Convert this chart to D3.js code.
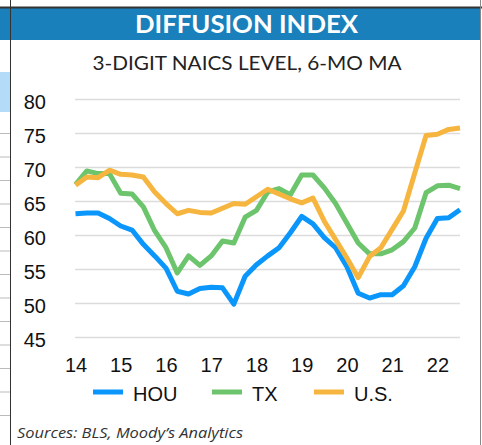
<!DOCTYPE html>
<html>
<head>
<meta charset="utf-8">
<script src="https://cdn.jsdelivr.net/npm/d3@7"></script>
<style>
  body { margin: 0; background: #fff; }
  svg { display: block; }
</style>
</head>
<body>
<svg id="chart" width="482" height="445"></svg>
<script>
// quarterly, 2014Q1 .. 2022Q3
const categories = [
  "14Q1","14Q2","14Q3","14Q4","15Q1","15Q2","15Q3","15Q4",
  "16Q1","16Q2","16Q3","16Q4","17Q1","17Q2","17Q3","17Q4",
  "18Q1","18Q2","18Q3","18Q4","19Q1","19Q2","19Q3","19Q4",
  "20Q1","20Q2","20Q3","20Q4","21Q1","21Q2","21Q3","21Q4",
  "22Q1","22Q2","22Q3"
];
const hou = [63.2, 63.3, 63.3, 62.5, 61.4, 60.8, 58.7, 57.0, 55.2, 51.8, 51.4, 52.2, 52.4, 52.3, 49.9, 54.0, 55.7,
  57.0, 58.2, 60.4, 62.8, 61.7, 59.7, 58.2, 55.4, 51.5, 50.8, 51.3, 51.3, 52.6, 55.4, 59.6, 62.5, 62.6, 63.8];
const tx = [67.5, 69.5, 69.1, 69.1, 66.2, 66.1, 64.2, 60.7, 58.2, 54.5, 57.0, 55.6, 57.0, 59.2, 58.9, 62.7, 63.7,
  66.4, 66.9, 66.0, 68.9, 68.9, 67.0, 64.7, 61.8, 58.9, 57.3, 57.3, 57.9, 59.1, 61.1, 66.3, 67.3, 67.4, 66.9];
const us = [67.4, 68.6, 68.5, 69.6, 69.0, 68.9, 68.6, 66.4, 64.7, 63.2, 63.7, 63.4, 63.3, 64.0, 64.7, 64.6, 65.7,
  66.8, 66.1, 65.4, 64.8, 65.5, 62.1, 59.4, 56.7, 53.8, 56.9, 58.2, 60.9, 63.6, 69.2, 74.7, 74.9, 75.6, 75.8];
const yTicks = [45, 50, 55, 60, 65, 70, 75, 80];
const yearLabels = ["14", "15", "16", "17", "18", "19", "20", "21", "22"];
const seriesNames = ["HOU", "TX", "U.S."];

const colors = ["#0a96fa", "#6cc46c", "#f6b53f"];
const svg = d3.select("#chart");

// frame / page decoration
svg.append("rect").attr("x", 0).attr("y", 8).attr("width", 481).attr("height", 32).attr("fill", "#1980bb");
svg.append("line").attr("x1", 0).attr("x2", 482).attr("y1", 7.5).attr("y2", 7.5)
  .attr("stroke", "#333").attr("stroke-width", 2);
svg.append("rect").attr("x", 0).attr("y", 72).attr("width", 10).attr("height", 40).attr("fill", "#b4dcf9");
svg.selectAll("line.side").data(d3.range(13)).enter().append("line")
  .attr("class", "side")
  .attr("x1", 0).attr("x2", 10)
  .attr("y1", k => 133.5 + k * 23.5).attr("y2", k => 133.5 + k * 23.5)
  .attr("stroke", "#bbb").attr("stroke-width", 1);
svg.append("line").attr("x1", 10.5).attr("x2", 10.5).attr("y1", 0).attr("y2", 445)
  .attr("stroke", "#333").attr("stroke-width", 1);
svg.append("line").attr("x1", 480.5).attr("x2", 480.5).attr("y1", 0).attr("y2", 445)
  .attr("stroke", "#888").attr("stroke-width", 1);

function fitText(sel, w) {
  sel.attr("textLength", w).attr("lengthAdjust", "spacingAndGlyphs");
}

svg.append("text").attr("x", 246.5).attr("y", 33).attr("text-anchor", "middle")
  .attr("font-family", "Lato, 'Open Sans', sans-serif").attr("font-weight", "bold")
  .attr("font-size", 25).attr("fill", "#fff").text("DIFFUSION INDEX")
  .call(fitText, 223);

svg.append("text").attr("x", 247).attr("y", 70).attr("text-anchor", "middle")
  .attr("font-family", "Lato, 'Open Sans', sans-serif")
  .attr("font-size", 20).attr("fill", "#222").text("3-DIGIT NAICS LEVEL, 6-MO MA")
  .call(fitText, 309);

svg.append("text").attr("x", 17).attr("y", 438)
  .attr("font-family", "'Open Sans', Lato, sans-serif").attr("font-style", "italic")
  .attr("font-size", 15).attr("fill", "#333").text("Sources: BLS, Moody\u2019s Analytics")
  .call(fitText, 226);

// scales
const x = d3.scalePoint().domain(categories).range([75.5, 460]);
const y = d3.scaleLinear().domain([45, 80]).range([337.5, 99.5]);

const font = "'Liberation Sans', Arial, sans-serif";

// gridlines
svg.append("g").selectAll("line").data(yTicks).enter().append("line")
  .attr("x1", 75).attr("x2", 460)
  .attr("y1", d => y(d)).attr("y2", d => y(d))
  .attr("stroke", "#dcdcdc").attr("stroke-width", 1.5);

// y axis labels
const yAxis = d3.axisLeft(y).tickValues(yTicks).tickSize(0).tickPadding(0);
const yg = svg.append("g").attr("transform", "translate(46,0)").call(yAxis);
yg.select(".domain").remove();
yg.selectAll("text").attr("font-family", font).attr("font-size", 20).attr("fill", "#111")
  .attr("dy", "0.45em");

// x axis labels: first quarter of each year
const xTickCats = categories.filter(c => c.endsWith("Q1"));
const xAxis = d3.axisBottom(x).tickValues(xTickCats).tickSize(0).tickPadding(0)
  .tickFormat((c, i) => yearLabels[i]);
const xg = svg.append("g").attr("transform", "translate(0,358)").call(xAxis);
xg.select(".domain").remove();
xg.selectAll("text").attr("font-family", font).attr("font-size", 20).attr("fill", "#111")
  .attr("dy", "0.72em");

// lines
const line = d3.line().x((d, i) => x(categories[i])).y(d => y(d));
[hou, tx, us].forEach((s, k) => {
  svg.append("path").datum(s).attr("d", line)
    .attr("fill", "none").attr("stroke", colors[k]).attr("stroke-width", 5)
    .attr("stroke-linejoin", "round");
});

// legend
const legendX = [93, 212, 314];
const lg = svg.append("g").selectAll("g").data(seriesNames).enter().append("g")
  .attr("transform", (d, i) => `translate(${legendX[i]},392)`);
lg.append("line").attr("x1", 0).attr("x2", 30).attr("y1", 0).attr("y2", 0)
  .attr("stroke", (d, i) => colors[i]).attr("stroke-width", 5);
lg.append("text").attr("x", 40).attr("y", 5).attr("dy", "0.2em")
  .attr("font-family", font).attr("font-size", 20).attr("fill", "#111").text(d => d);
</script>
</body>
</html>
